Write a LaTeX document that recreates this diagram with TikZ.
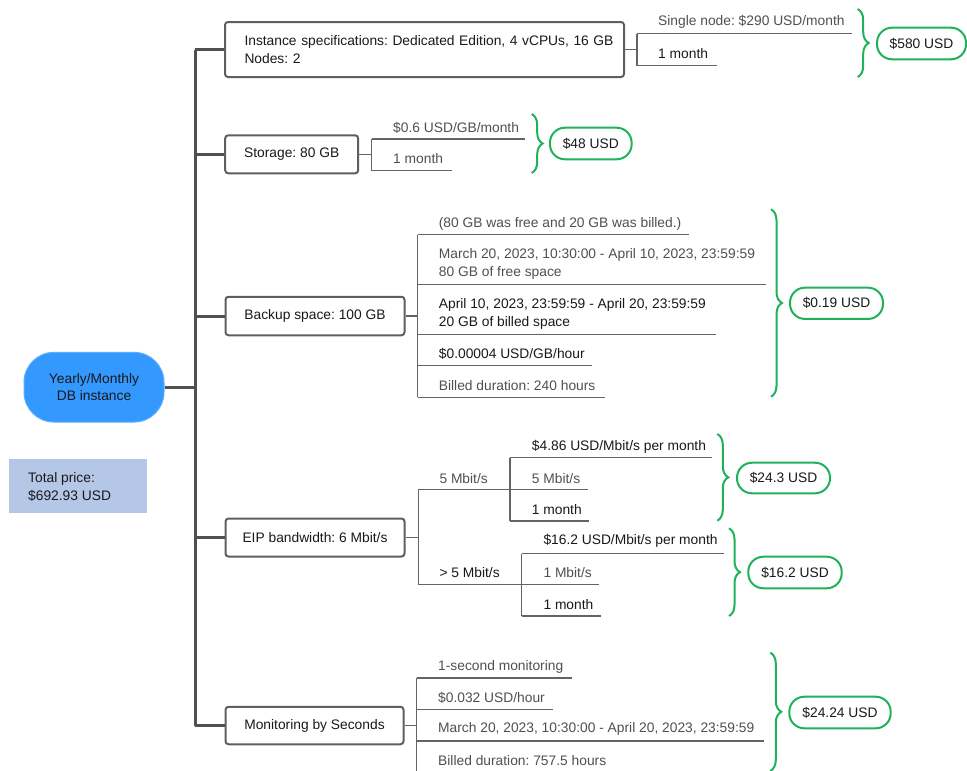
\documentclass[tikz,border=0pt]{standalone}
\usepackage{fontspec}
\setmainfont{Liberation Sans}
\usetikzlibrary{decorations.pathreplacing}
\definecolor{trunkc}{RGB}{80,80,80}
\definecolor{boxc}{RGB}{95,95,95}
\definecolor{thinc}{RGB}{100,100,100}
\definecolor{txtg}{RGB}{80,80,80}
\definecolor{txtd}{RGB}{25,25,25}
\definecolor{gr}{RGB}{32,178,90}
\definecolor{rootblue}{RGB}{51,153,255}
\definecolor{totalbg}{RGB}{180,199,231}
\begin{document}
\begin{tikzpicture}[x=1pt,y=-1pt,
  font=\fontsize{13.8}{17.5}\selectfont\frenchspacing,
  trunkline/.style={draw=trunkc, line width=3pt},
  thinline/.style={draw=thinc, line width=1.2pt},
  catbox/.style={draw=boxc, line width=2pt, rounded corners=3pt, fill=white, text=txtd, inner sep=0pt, align=center},
  pill/.style={draw=gr, line width=2pt, rounded corners=15pt, text=txtd, inner sep=0pt},
  gbrace/.style={draw=gr, line width=2pt, decorate, decoration={brace, amplitude=11pt}},
  lbl/.style={anchor=west, inner sep=0pt, text=txtg, align=left},
  lbld/.style={lbl, text=txtd}
]
\clip (0,0) rectangle (967,771);
\fill[white] (0,0) rectangle (967,771);

% root and total
\node[fill=rootblue, draw=rootblue!80!white, line width=1pt, rounded corners=30pt, minimum width=140pt, minimum height=69.7pt, inner sep=0pt, align=center, text=txtd] (root) at (94,387.2) {Yearly/Monthly\\DB instance};
\node[fill=totalbg, minimum width=138pt, minimum height=54.3pt, inner sep=0pt] (total) at (78.3,486.2) {};
\node[lbld, anchor=west] (totaltxt) at (28,487) {Total price:\\\$692.93 USD};

% category boxes
\node[catbox, minimum width=399pt, minimum height=55pt, text width=360pt, inner xsep=19.5pt, align=left] (inst) at (424.5,49.5) {\mbox{Instance specifications: Dedicated Edition, 4 vCPUs, 16 GB}\\Nodes: 2};
\node[catbox, minimum width=133pt, minimum height=38pt] (stor) at (291.7,154.3) {Storage: 80 GB};
\node[catbox, minimum width=179pt, minimum height=38.5pt] (back) at (315,316) {Backup space: 100 GB};
\node[catbox, minimum width=179pt, minimum height=38pt] (eip) at (315,537.5) {EIP bandwidth: 6 Mbit/s};
\node[catbox, minimum width=178pt, minimum height=37.5pt] (mon) at (314.5,725.5) {Monitoring by Seconds};

% trunk
\coordinate (tr) at (195,0);
\draw[trunkline] (inst.west -| tr) -- (mon.west -| tr);
\draw[trunkline] (root.east) -- (root.east -| tr);
\foreach \n in {inst,stor,back,eip,mon}{
  \draw[trunkline] (\n.west -| tr) -- (\n.west);
}

% ---- instance
\coordinate (iv) at (637,49.5);
\draw[thinline] (inst.east) -- (iv);
\draw[thinline] (637,33.7) -- (637,65.7);
\draw[thinline] (637,33.7) -- (852,33.7);
\draw[thinline] (637,65.7) -- (717,65.7);
\node[lbl] (i1) at (658,22.3) {Single node: \$290 USD/month};
\node[lbld] (i2) at (658,53.5) {1 month};
\draw[gbrace] (857.7,9) -- (857.7,77);
\node[pill, minimum width=89pt, minimum height=31.6pt] (p1) at (921.5,43.5) {\$580 USD};

% ---- storage
\coordinate (sv) at (371.7,154.3);
\draw[thinline] (stor.east) -- (sv);
\draw[thinline] (371.7,139) -- (371.7,170.5);
\draw[thinline] (371.7,139) -- (525,139);
\draw[thinline] (371.7,170.5) -- (451.7,170.5);
\node[lbl] (s1) at (393,127.5) {\$0.6 USD/GB/month};
\node[lbl] (s2) at (393,158.5) {1 month};
\draw[gbrace] (531.7,114) -- (531.7,173);
\node[pill, minimum width=81.7pt, minimum height=31.6pt] (p2) at (590.8,143.5) {\$48 USD};

% ---- backup
\coordinate (bv) at (417.7,316);
\draw[thinline] (back.east) -- (bv);
\draw[thinline] (417.7,234.7) -- (417.7,397.3);
\draw[thinline] (417.7,234.7) -- (689,234.7);
\draw[thinline] (417.7,284.7) -- (765.7,284.7);
\draw[thinline] (417.7,334.3) -- (715.7,334.3);
\draw[thinline] (417.7,365.3) -- (592.3,365.3);
\draw[thinline] (417.7,397.3) -- (605,397.3);
\node[lbl] (b1) at (438.7,224) {(80 GB was free and 20 GB was billed.)};
\node[lbl] (b2) at (438.7,264) {March 20, 2023, 10:30:00 - April 10, 2023, 23:59:59\\80 GB of free space};
\node[lbld] (b3) at (438.7,314) {April 10, 2023, 23:59:59 - April 20, 23:59:59\\20 GB of billed space};
\node[lbld] (b4) at (438.7,354) {\$0.00004 USD/GB/hour};
\node[lbl] (b5) at (438.7,385.7) {Billed duration: 240 hours};
\draw[gbrace] (771,209.3) -- (771,396.7);
\node[pill, minimum width=93pt, minimum height=31.3pt] (p3) at (836.5,303.3) {\$0.19 USD};

% ---- EIP
\coordinate (ev) at (418.3,537.5);
\draw[thinline] (eip.east) -- (ev);
\draw[thinline] (418.3,489.7) -- (418.3,584.3);
\draw[thinline] (418.3,489.7) -- (587.7,489.7);
\draw[thinline] (418.3,584.3) -- (599,584.3);
\node[lbl] (e1) at (439.3,479) {5 Mbit/s};
\node[lbld] (e2) at (439.3,573) {> 5 Mbit/s};
% sub 1
\draw[thinline] (510,457.7) -- (510,521);
\draw[thinline] (510,457.7) -- (712,457.7);
\draw[thinline] (510,521) -- (589.3,521);
\node[lbld] (e11) at (531.7,447.3) {\$4.86 USD/Mbit/s per month};
\node[lbl] (e12) at (531.7,479) {5 Mbit/s};
\node[lbld] (e13) at (531.7,510) {1 month};
\draw[gbrace] (717.3,434) -- (717.3,520.7);
\node[pill, minimum width=93pt, minimum height=30.6pt] (p4) at (783.5,478) {\$24.3 USD};
% sub 2
\draw[thinline] (521.7,553.7) -- (521.7,616);
\draw[thinline] (521.7,553.7) -- (724,553.7);
\draw[thinline] (521.7,616) -- (601,616);
\node[lbld] (e21) at (543.3,541.3) {\$16.2 USD/Mbit/s per month};
\node[lbl] (e22) at (543.3,573) {1 Mbit/s};
\node[lbld] (e23) at (543.3,604.3) {1 month};
\draw[gbrace] (729,528.3) -- (729,616);
\node[pill, minimum width=93.4pt, minimum height=31.6pt] (p5) at (795,572.5) {\$16.2 USD};

% ---- monitoring
\coordinate (mv) at (416.7,725.5);
\draw[thinline] (mon.east) -- (mv);
\draw[thinline] (416.7,678) -- (416.7,780);
\draw[thinline] (416.7,678) -- (572.3,678);
\draw[thinline] (416.7,709.7) -- (552.7,709.7);
\draw[thinline] (416.7,741) -- (764.3,741);
\draw[thinline] (416.7,773) -- (620,773);
\node[lbl] (m1) at (438,666.7) {1-second monitoring};
\node[lbl] (m2) at (438,698.3) {\$0.032 USD/hour};
\node[lbl] (m3) at (438,729.3) {March 20, 2023, 10:30:00 - April 20, 2023, 23:59:59};
\node[lbl] (m4) at (438,760.7) {Billed duration: 757.5 hours};
\draw[gbrace] (770.3,652.7) -- (770.3,770.9);
\node[pill, minimum width=101.4pt, minimum height=31.6pt] (p6) at (840,712.5) {\$24.24 USD};
\end{tikzpicture}
\end{document}
